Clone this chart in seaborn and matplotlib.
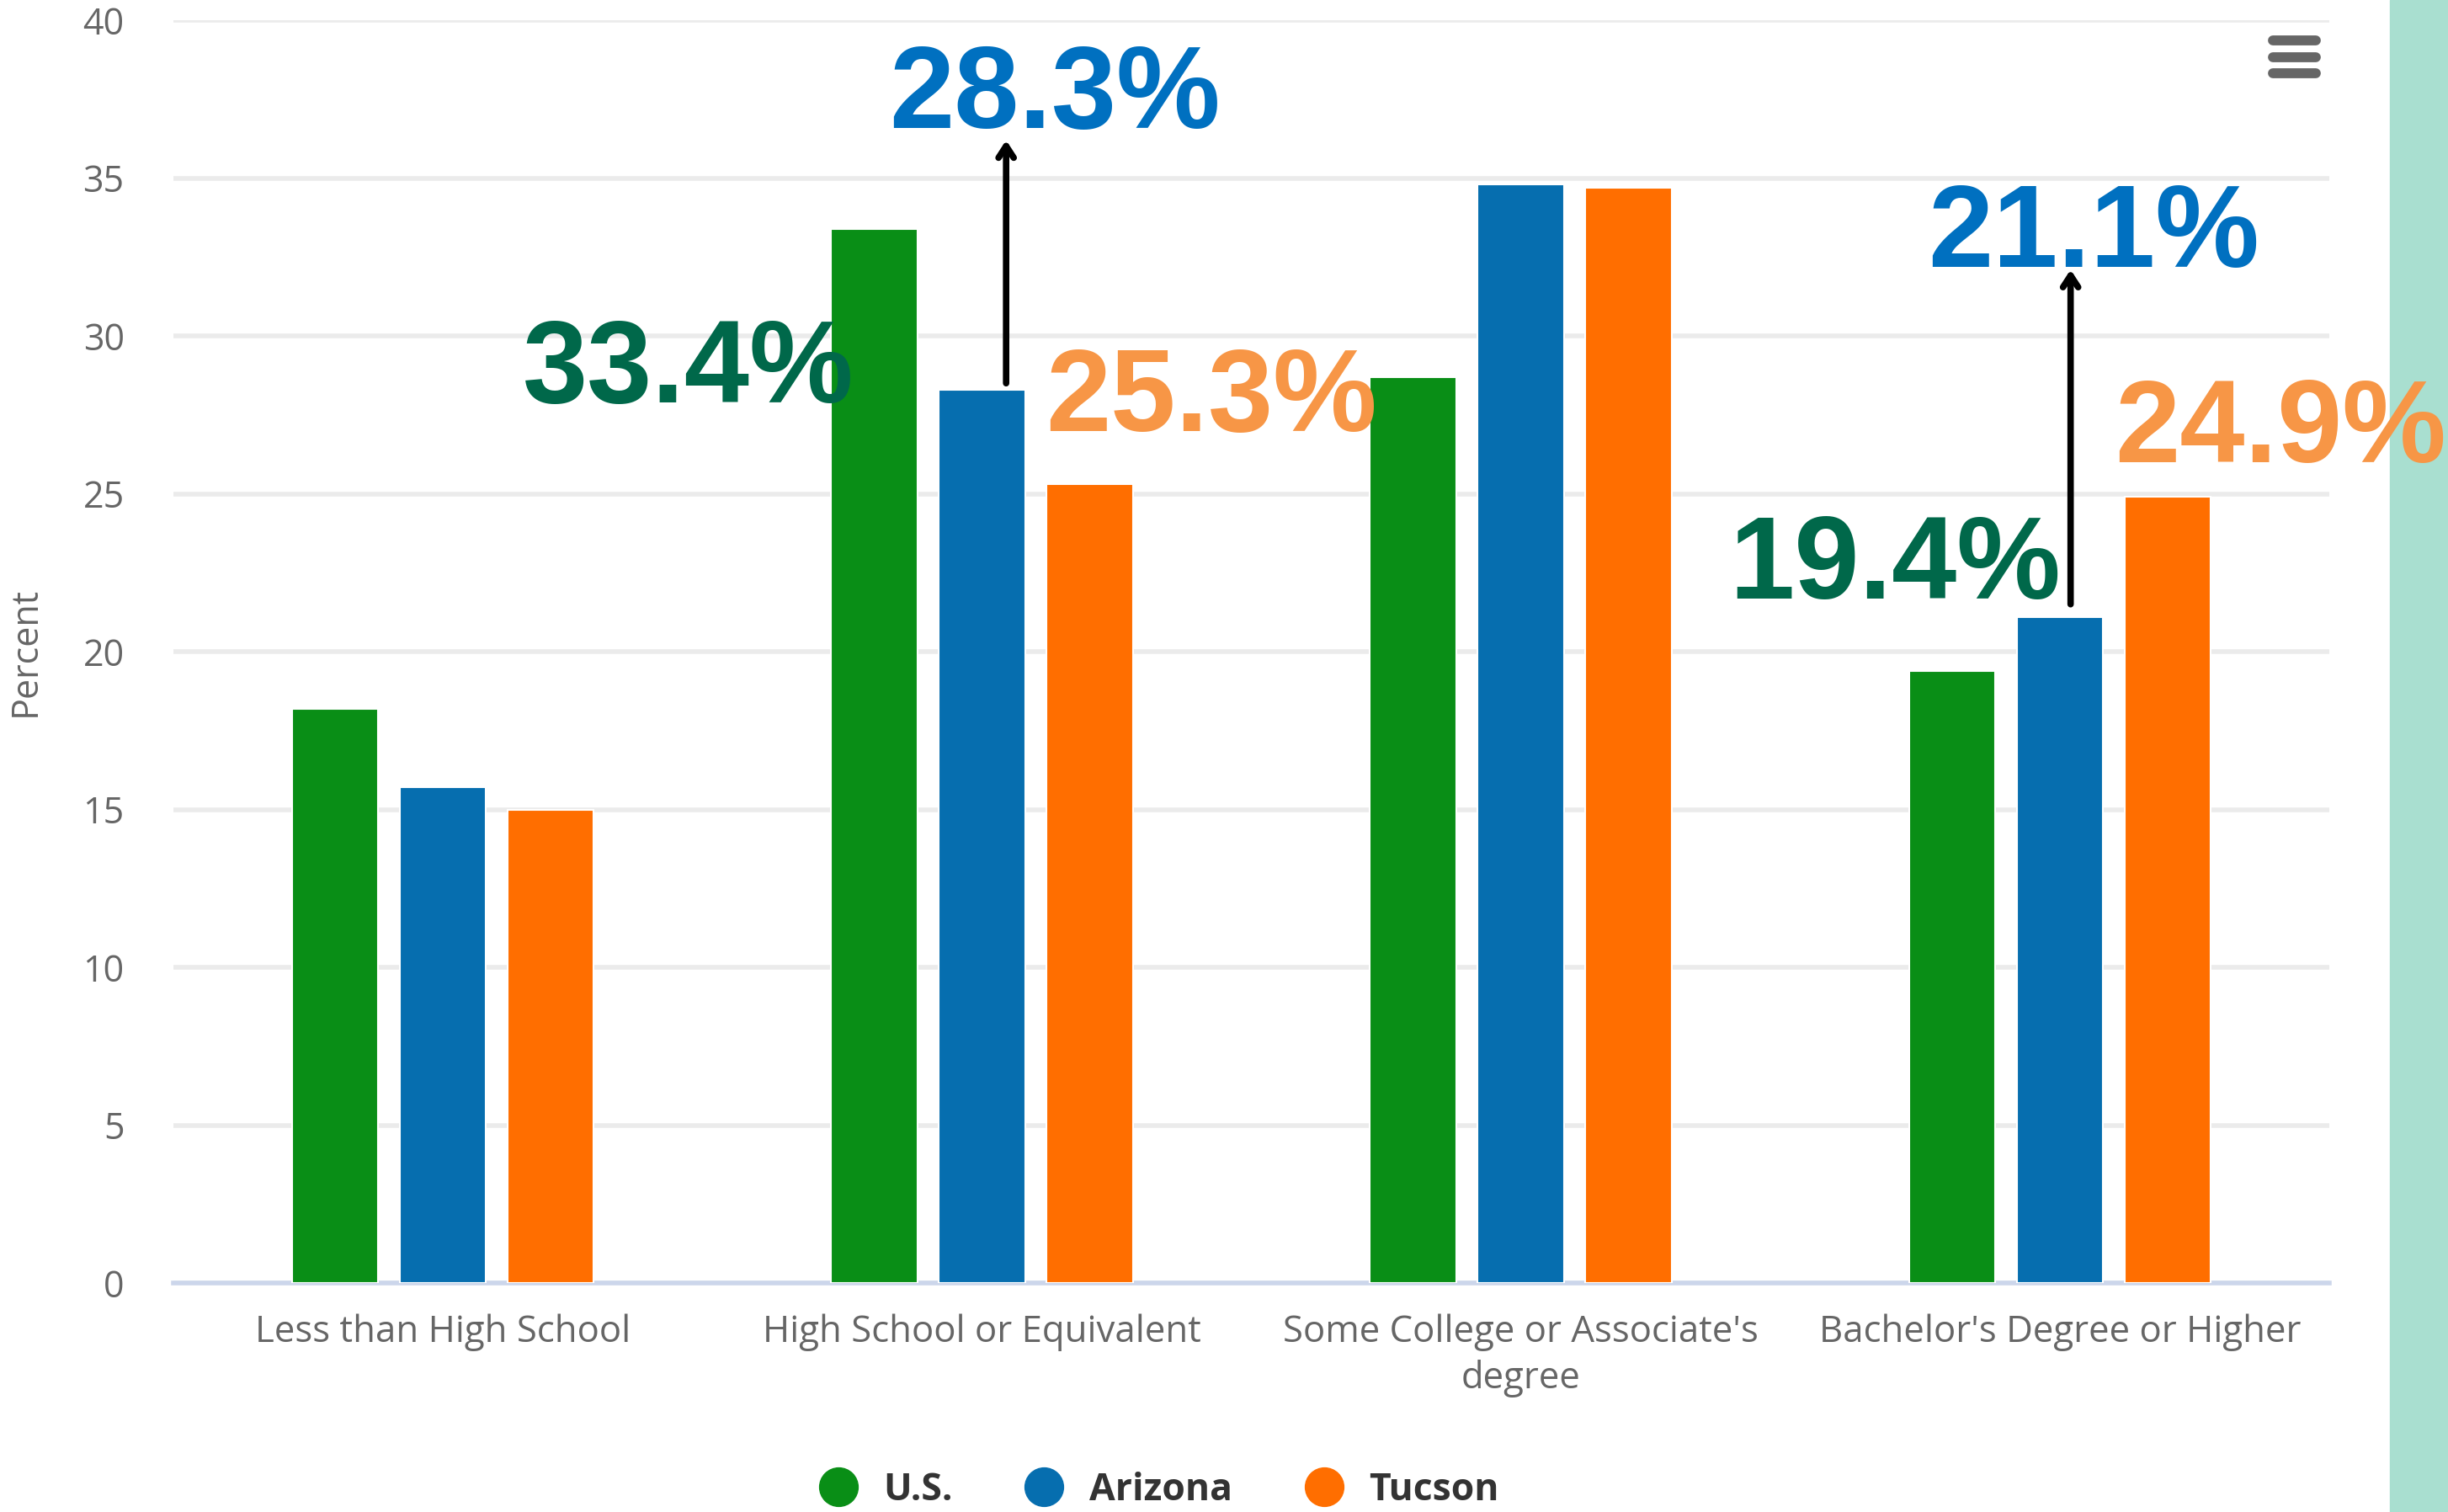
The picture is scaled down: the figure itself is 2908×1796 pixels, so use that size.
import pandas as pd
import matplotlib.pyplot as plt
import matplotlib.patches as mpatches
from matplotlib.lines import Line2D
import seaborn as sns

# --- data ---
categories = ["Less than High School", "High School or Equivalent",
              "Some College or Associate's\ndegree", "Bachelor's Degree or Higher"]
regions = ["U.S.", "Arizona", "Tucson"]
us_vals = [18.2, 33.4, 28.7, 19.4]
az_vals = [15.7, 28.3, 34.8, 21.1]
tucson_vals = [15.0, 25.3, 34.7, 24.9]
bar_colors = ["#098E16", "#066EAF", "#FF6E00"]
label_colors = ["#00684A", "#0070C0", "#F79646"]

# callouts: (region index, category index, text x, text y) in data units
callouts = [(0, 1, 0.455, 28.85), (1, 1, 1.135, 37.55), (2, 1, 1.425, 27.95),
            (0, 3, 2.695, 22.65), (1, 3, 3.062, 33.15), (2, 3, 3.41, 26.95)]
# arrows: (x, y start, y end)
arrows = [(1.045, 28.5, 36.2), (3.02, 21.5, 32.1)]

df = pd.DataFrame({
    "Category": categories * 3,
    "Region": [r for r in regions for _ in categories],
    "Percent": us_vals + az_vals + tucson_vals,
})
series = [us_vals, az_vals, tucson_vals]

sns.set_style("white")
plt.rcParams["font.family"] = ["Open Sans", "DejaVu Sans"]

W, H = 2908, 1796
fig = plt.figure(figsize=(W / 100, H / 100), dpi=100)
ax = fig.add_axes([206 / W, 1 - 1524 / H, (2767 - 206) / W, (1524 - 24) / H])
ax.set_facecolor("none")

# teal strip at the right edge
fig.patches.append(mpatches.Rectangle((2839 / W, 0), 1 - 2839 / W, 1, transform=fig.transFigure,
                                      color="#A9DFD0", zorder=-1))

sns.barplot(data=df, x="Category", y="Percent", hue="Region", palette=bar_colors,
            width=0.6, gap=0.2, saturation=1, legend=False, ax=ax,
            edgecolor="white", linewidth=1.5, zorder=3)

ax.set_ylim(0, 40)
ax.set_xlim(-0.5, 3.5)
ax.set_yticks(range(0, 41, 5))
ax.yaxis.grid(True, color="#ebebeb", linewidth=4, zorder=0)
ax.set_axisbelow(True)
for s in ["top", "right", "left"]:
    ax.spines[s].set_visible(False)
ax.spines["bottom"].set_color("#ccd6eb")
ax.spines["bottom"].set_linewidth(4)
ax.tick_params(axis="y", length=0, pad=42, labelsize=31, labelcolor="#666666")
ax.tick_params(axis="x", length=0, pad=26, labelsize=31.5, labelcolor="#666666")
for lbl in ax.get_xticklabels():
    lbl.set_linespacing(1.3)
ax.set_xlabel("")
ax.set_ylabel("Percent", fontsize=31, color="#666666")
ax.yaxis.set_label_coords(-0.06, 0.5)

# big callout labels
for ri, ci, tx, ty in callouts:
    ax.text(tx, ty, f"{series[ri][ci]}%", color=label_colors[ri], fontsize=100,
            fontweight="bold", family="Liberation Sans", ha="center", va="center",
            clip_on=False, zorder=6)

for x, y0, y1 in arrows:
    ax.annotate("", xy=(x, y1), xytext=(x, y0),
                arrowprops=dict(arrowstyle="->,head_length=1.0,head_width=0.65",
                                color="black", lw=5.5, shrinkA=0, shrinkB=0),
                zorder=7)

# legend
handles = [Line2D([], [], marker="o", linestyle="", markersize=33, color=c) for c in bar_colors]
leg = fig.legend(handles, regions, loc="center", bbox_to_anchor=(0.4697, 1 - 1770 / H),
                 ncol=3, frameon=False, handletextpad=0.2, columnspacing=1.45,
                 prop={"size": 32, "weight": "bold"})
for t in leg.get_texts():
    t.set_color("#333333")

# menu icon
for yy in [48, 68, 87]:
    fig.add_artist(Line2D([2700 / W, 2751 / W], [1 - yy / H, 1 - yy / H], color="#666666",
                          linewidth=8.5, solid_capstyle="round", transform=fig.transFigure))

fig.savefig("out.png", dpi=100)
